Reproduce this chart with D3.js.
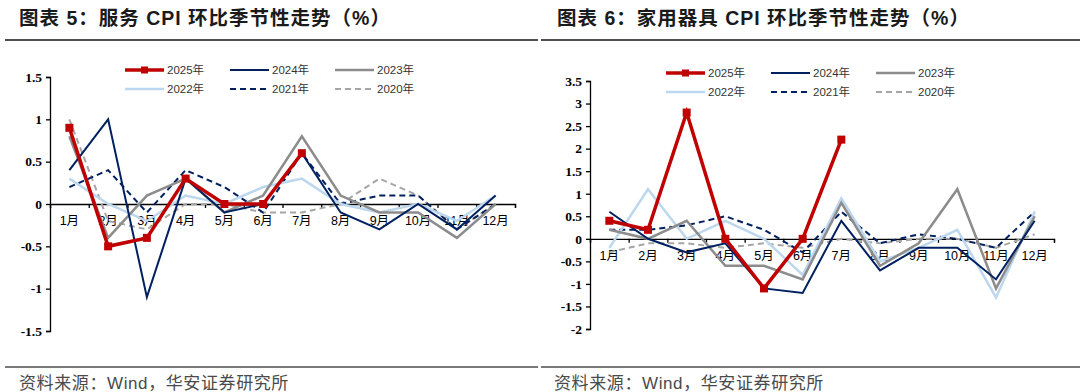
<!DOCTYPE html>
<html><head><meta charset="utf-8">
<script src="https://cdn.jsdelivr.net/npm/d3@7/dist/d3.min.js"></script>
<style>
body{margin:0;background:#fff;}
svg{display:block;}
</style></head>
<body>
<svg id="c" width="1080" height="392"></svg>
<script>
const months = ["1月","2月","3月","4月","5月","6月","7月","8月","9月","10月","11月","12月"];
const seriesNames = ["2025年","2024年","2023年","2022年","2021年","2020年"];

// 图表5 服务CPI环比
const svc2025 = [0.9,-0.5,-0.4,0.3,0.0,0.0,0.6];
const svc2024 = [0.4,1.0,-1.1,0.3,-0.1,0.0,0.6,-0.1,-0.3,0.0,-0.3,0.1];
const svc2023 = [0.8,-0.4,0.1,0.3,-0.1,0.1,0.8,0.1,-0.1,-0.1,-0.4,0.0];
const svc2022 = [0.3,0.0,-0.2,0.1,0.0,0.2,0.3,0.0,-0.1,0.0,-0.2,0.1];
const svc2021 = [0.2,0.4,-0.1,0.4,0.2,-0.1,0.6,0.0,0.1,0.1,-0.3,0.0];
const svc2020 = [1.0,-0.2,-0.3,0.0,0.0,-0.1,-0.1,0.0,0.3,0.1,-0.3,0.0];
const svcTicks = [1.5,1,0.5,0,-0.5,-1,-1.5];

// 图表6 家用器具CPI环比
const app2025 = [0.4,0.2,2.8,0.0,-1.1,0.0,2.2];
const app2024 = [0.6,0.0,-0.3,-0.1,-1.1,-1.2,0.4,-0.7,-0.2,-0.2,-0.9,0.4];
const app2023 = [0.2,0.0,0.4,-0.6,-0.6,-0.9,0.8,-0.6,-0.1,1.1,-1.1,0.5];
const app2022 = [-0.2,1.1,0.0,0.4,0.0,-0.8,0.9,-0.5,-0.2,0.2,-1.3,0.6];
const app2021 = [0.2,0.2,0.3,0.5,0.2,-0.3,0.6,-0.1,0.1,0.0,-0.2,0.6];
const app2020 = [-0.3,-0.1,-0.1,-0.2,-0.1,-0.2,0.0,-0.1,0.0,0.0,-0.2,0.1];
const appTicks = [3.5,3,2.5,2,1.5,1,0.5,0,-0.5,-1,-1.5,-2];

const styles = {
  "2025年":{color:"#C00000",width:3.5,dash:null,marker:true},
  "2024年":{color:"#002060",width:2,dash:null},
  "2023年":{color:"#8C8C8C",width:2.5,dash:null},
  "2022年":{color:"#BDD7EE",width:2.5,dash:null},
  "2021年":{color:"#002060",width:2,dash:"6,4"},
  "2020年":{color:"#A6A6A6",width:2,dash:"6,4"}
};

const svg = d3.select("#c");
const cjk = "'Liberation Sans','Noto Sans CJK SC',sans-serif";

function panel(cfg){
  const g = svg.append("g");
  g.append("text").attr("x",cfg.titleX).attr("y",25)
    .attr("font-family",cjk).attr("font-size",19.5).attr("font-weight","bold")
    .attr("letter-spacing",1).attr("fill","#1a1a1a").text(cfg.title);
  g.append("line").attr("x1",cfg.lineX1).attr("x2",cfg.lineX2).attr("y1",40).attr("y2",40)
    .attr("stroke","#4d4d4d").attr("stroke-width",2);
  g.append("line").attr("x1",cfg.lineX1).attr("x2",cfg.lineX2).attr("y1",367).attr("y2",367)
    .attr("stroke","#4d4d4d").attr("stroke-width",1.5);
  g.append("text").attr("x",cfg.footX).attr("y",389)
    .attr("font-family",cjk).attr("font-size",17).attr("letter-spacing",0.6)
    .attr("fill","#4a4a4a").text("资料来源：Wind，华安证券研究所");

  const x = d3.scaleBand().domain(months).range([cfg.x0,cfg.x1]).padding(0);
  const xb = d3.scaleLinear().domain([0,12]).range([cfg.x0,cfg.x1]);
  const y = d3.scaleLinear().domain(cfg.yDomain).range([cfg.yBottom,cfg.yTop]);

  const ya = g.append("g").attr("transform",`translate(${cfg.x0},0)`)
    .call(d3.axisLeft(y).tickValues(cfg.ticks).tickSize(4).tickPadding(4).tickFormat(d=>String(d)));
  ya.select(".domain").attr("stroke","#000").attr("stroke-width",1.3);
  ya.selectAll(".tick line").attr("stroke","#000").attr("stroke-width",1.3);
  ya.selectAll("text").attr("font-family","'Liberation Serif','Times New Roman',serif")
    .attr("font-weight","bold").attr("font-size",13.5).attr("fill","#000");

  const y0 = y(0);
  const xt = g.append("g").attr("transform",`translate(0,${y0})`)
    .call(d3.axisBottom(xb).tickValues(d3.range(13)).tickSize(4).tickFormat(""));
  xt.select(".domain").attr("stroke","#000").attr("stroke-width",1.3);
  xt.selectAll(".tick line").attr("stroke","#000").attr("stroke-width",1.3);
  const xl = g.append("g").attr("transform",`translate(0,${y0})`)
    .call(d3.axisBottom(x).tickSize(0).tickPadding(12));
  xl.select(".domain").remove();
  xl.selectAll("text").attr("font-family",cjk).attr("font-size",12.5).attr("fill","#000");

  const line = d3.line().x((d,i)=>x(months[i])+x.bandwidth()/2).y(d=>y(d));
  const order = ["2020年","2021年","2022年","2023年","2024年","2025年"];
  order.forEach(name=>{
    const s = styles[name]; const data = cfg.data[name];
    g.append("path").datum(data).attr("d",line).attr("fill","none")
      .attr("stroke",s.color).attr("stroke-width",s.width)
      .attr("stroke-dasharray",s.dash).attr("stroke-linejoin","miter");
    if(s.marker){
      g.selectAll(null).data(data).enter().append("rect")
        .attr("x",(d,i)=>x(months[i])+x.bandwidth()/2-4).attr("y",d=>y(d)-4)
        .attr("width",8).attr("height",8).attr("fill",s.color);
    }
  });

  const cols = cfg.legCols, rows = cfg.legRows;
  seriesNames.forEach((name,i)=>{
    const s = styles[name];
    const cx = cols[i%3], cy = rows[Math.floor(i/3)];
    g.append("line").attr("x1",cx).attr("x2",cx+39).attr("y1",cy).attr("y2",cy)
      .attr("stroke",s.color).attr("stroke-width",s.width).attr("stroke-dasharray",s.dash);
    if(s.marker){
      g.append("rect").attr("x",cx+19.5-3.5).attr("y",cy-3.5).attr("width",7).attr("height",7).attr("fill",s.color);
    }
    g.append("text").attr("x",cx+42).attr("y",cy).attr("dy","0.35em")
      .attr("font-family",cjk).attr("font-size",11.5).attr("fill","#333").text(name);
  });
}

panel({
  title:"图表 5：服务 CPI 环比季节性走势（%）", titleX:19, lineX1:5, lineX2:538, footX:19,
  x0:50, x1:515, yDomain:[-1.5,1.5], yTop:77, yBottom:331, ticks:svcTicks,
  data:{"2025年":svc2025,"2024年":svc2024,"2023年":svc2023,"2022年":svc2022,"2021年":svc2021,"2020年":svc2020},
  legCols:[125,230,335], legRows:[70,89]
});
panel({
  title:"图表 6：家用器具 CPI 环比季节性走势（%）", titleX:557, lineX1:541, lineX2:1080, footX:554,
  x0:590, x1:1054, yDomain:[-2,3.5], yTop:81, yBottom:329, ticks:appTicks,
  data:{"2025年":app2025,"2024年":app2024,"2023年":app2023,"2022年":app2022,"2021年":app2021,"2020年":app2020},
  legCols:[666,771,876], legRows:[73,92]
});
</script>
</body></html>
